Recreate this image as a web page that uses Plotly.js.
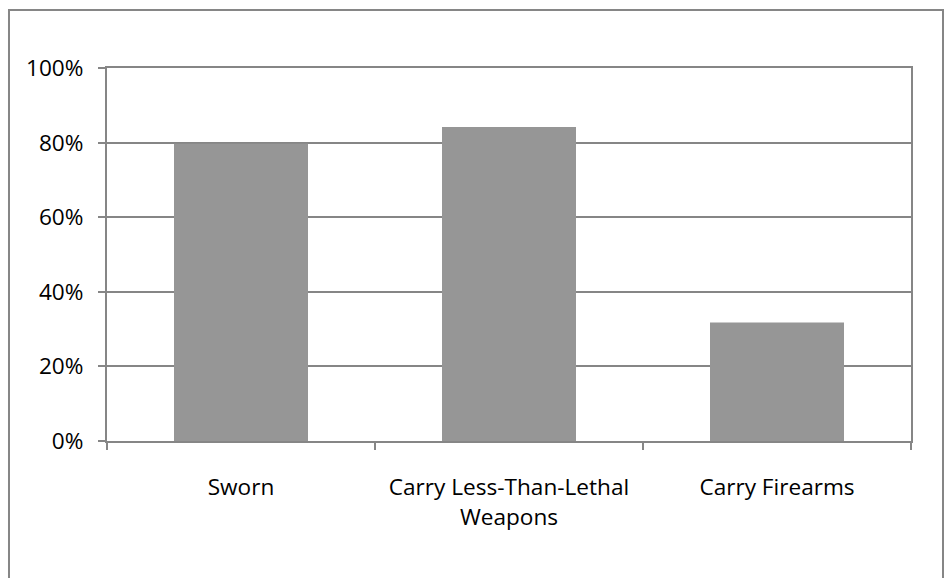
<!DOCTYPE html>
<html>
<head>
<meta charset="utf-8">
<script src="https://cdn.plot.ly/plotly-3.0.1.min.js"></script>
<style>html,body{margin:0;padding:0;background:#fff;} #chart{width:952px;height:578px;}</style>
</head>
<body>
<div id="chart"></div>
<script>
var categories = ["Sworn", "Carry Less-Than-Lethal<br>Weapons", "Carry Firearms"];
var values = [0.797, 0.842, 0.318];
var yTickVals = [0, 0.2, 0.4, 0.6, 0.8, 1.0];
var yTickText = ["0%", "20%", "40%", "60%", "80%", "100%"];

var gridColor = "#868686";
var fontSpec = {family: "'Open Sans', 'Liberation Sans', sans-serif", size: 22.6, color: "#000000"};

var trace = {
  type: "bar",
  x: categories,
  y: values,
  marker: {color: "#969696", line: {width: 0}},
  hoverinfo: "none"
};

var layout = {
  width: 952,
  height: 578,
  margin: {l: 107, r: 41, t: 68, b: 137, pad: 0},
  paper_bgcolor: "#ffffff",
  plot_bgcolor: "#ffffff",
  bargap: 0.5,
  showlegend: false,
  font: fontSpec,
  xaxis: {
    type: "category",
    showline: true,
    linecolor: gridColor,
    linewidth: 2,
    mirror: true,
    showgrid: false,
    ticks: "outside",
    tickson: "boundaries",
    ticklen: 7,
    tickwidth: 2,
    tickcolor: gridColor,
    tickfont: fontSpec,
    ticklabelstandoff: 25,
    fixedrange: true
  },
  yaxis: {
    range: [0, 1],
    tickvals: yTickVals,
    ticktext: yTickText,
    showline: true,
    linecolor: gridColor,
    linewidth: 2,
    mirror: true,
    showgrid: true,
    gridcolor: gridColor,
    gridwidth: 2,
    zeroline: false,
    ticks: "outside",
    ticklen: 7,
    tickwidth: 2,
    tickcolor: gridColor,
    tickfont: fontSpec,
    ticklabelstandoff: 10,
    fixedrange: true
  },
  shapes: [{
    type: "rect",
    xref: "paper", yref: "paper",
    x0: -0.1219, x1: 1.0398, y0: -0.45, y1: 1.1555,
    line: {color: gridColor, width: 2},
    fillcolor: "rgba(0,0,0,0)",
    layer: "below"
  }]
};

Plotly.newPlot("chart", [trace], layout, {displayModeBar: false, staticPlot: true});
</script>
</body>
</html>
